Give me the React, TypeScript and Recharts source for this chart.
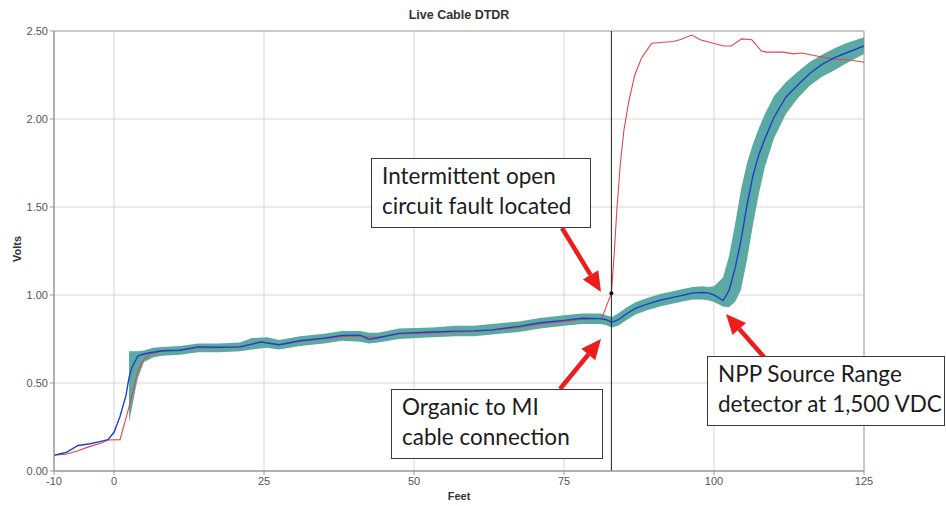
import React from "react";
import {
  ComposedChart,
  Line,
  Area,
  XAxis,
  YAxis,
  CartesianGrid,
  ReferenceLine,
  ReferenceDot,
  ReferenceArea,
} from "recharts";

// Live cable trace (blue)
const liveFeet = [
  -10, -8, -6, -4, -2, -1, 0, 1, 2, 2.5, 3, 4, 5, 6, 8, 11, 14, 17.5, 21, 24.5,
  27.5, 31, 35, 38, 41, 42.5, 44, 47.5, 53, 57, 60, 63, 67.5, 71, 75, 78, 81, 82, 83, 84,
  85.5, 87, 89, 91, 93, 95, 96.5, 98, 99, 100, 101.5, 102.5, 103.5, 104.5, 105.5, 106.5,
  107.5, 108.5, 110, 112, 114, 116, 118, 120, 122, 125,
];
const liveVolts = [
  0.09, 0.105, 0.145, 0.155, 0.17, 0.178, 0.22, 0.31, 0.43, 0.53, 0.59, 0.655, 0.665,
  0.672, 0.683, 0.686, 0.705, 0.703, 0.705, 0.733, 0.717, 0.74, 0.755, 0.77, 0.772, 0.748,
  0.757, 0.782, 0.79, 0.795, 0.796, 0.802, 0.822, 0.842, 0.856, 0.868, 0.866, 0.86, 0.846,
  0.858, 0.895, 0.925, 0.95, 0.97, 0.985, 1.0, 1.012, 1.014, 1.012, 1.0, 0.968, 1.025,
  1.15, 1.31, 1.51, 1.68, 1.8, 1.89, 2.01, 2.125, 2.195, 2.26, 2.31, 2.347, 2.375, 2.415,
];

// Intermittent-fault trace (red)
const faultFeet = [
  -10, -8, -6, -4, -2, -1, 1, 2, 3, 4, 5, 6, 8, 11, 14, 17.5, 21, 24.5, 27.5, 31, 35, 38,
  41, 42.5, 44, 47.5, 53, 57, 60, 63, 67.5, 71, 75, 78, 81.3, 82.9, 83.4, 83.8, 84.4, 85,
  85.8, 86.8, 87.9, 89.6, 91.6, 93.2, 94.3, 96.3, 97.7, 99.9, 101.6, 102.9, 104.6, 106.3,
  107.9, 108.8, 111.6, 113.2, 114.6, 117.1, 119.9, 122.7, 125,
];
const faultVolts = [
  0.09, 0.095, 0.115, 0.14, 0.16, 0.176, 0.178, 0.3, 0.43, 0.57, 0.635, 0.665, 0.68, 0.686,
  0.7, 0.7, 0.705, 0.735, 0.716, 0.738, 0.752, 0.765, 0.768, 0.76, 0.76, 0.778, 0.785, 0.79,
  0.795, 0.8, 0.815, 0.835, 0.85, 0.862, 0.868, 1.01, 1.25, 1.48, 1.75, 1.94, 2.1, 2.25,
  2.345, 2.43, 2.436, 2.44, 2.45, 2.477, 2.45, 2.43, 2.415, 2.415, 2.455, 2.45, 2.386, 2.38,
  2.38, 2.37, 2.375, 2.358, 2.34, 2.335, 2.322,
];

// Baseline envelope (teal band)
const bandFeet = [
  2.5, 3, 3.5, 4, 5, 6.5, 8, 11, 14, 17.5, 21, 23, 25.5, 27.5, 31, 35, 38, 41, 42.5, 44,
  47.5, 53, 57, 60, 63, 67.5, 71, 75, 78, 81, 82, 83, 84, 85.5, 87, 89, 91, 93, 95, 96.5,
  98, 99, 100, 101.5, 102.5, 103.5, 104.5, 105.5, 106.5, 107.5, 108.5, 110, 112, 114, 116,
  118, 120, 122, 125,
];
const bandLow = [
  0.28, 0.36, 0.45, 0.53, 0.62, 0.645, 0.655, 0.66, 0.675, 0.675, 0.68, 0.69, 0.7, 0.69,
  0.71, 0.725, 0.74, 0.735, 0.725, 0.73, 0.75, 0.76, 0.765, 0.765, 0.775, 0.79, 0.81, 0.825,
  0.835, 0.835, 0.83, 0.815, 0.825, 0.86, 0.89, 0.915, 0.935, 0.95, 0.965, 0.975, 0.975,
  0.97, 0.96, 0.935, 0.93, 0.96, 1.03, 1.2, 1.4, 1.58, 1.73, 1.89, 2.03, 2.12, 2.19,
  2.24, 2.275, 2.315, 2.37,
];
const bandHigh = [
  0.68, 0.68, 0.68, 0.68, 0.685, 0.7, 0.705, 0.71, 0.725, 0.725, 0.73, 0.755, 0.76, 0.745,
  0.765, 0.78, 0.795, 0.795, 0.785, 0.785, 0.81, 0.815, 0.825, 0.825, 0.835, 0.85, 0.87,
  0.885, 0.895, 0.895, 0.885, 0.875, 0.895, 0.93, 0.96, 0.985, 1.005, 1.02, 1.035, 1.045,
  1.05, 1.045, 1.05, 1.1, 1.22, 1.4, 1.6, 1.75, 1.86, 1.95, 2.03, 2.13, 2.21, 2.27, 2.325,
  2.365, 2.4, 2.43, 2.465,
];

const xTicks = [-10, 0, 25, 50, 75, 100, 125];
const yTicks = [0, 0.5, 1, 1.5, 2, 2.5];

// cursor sits on the fault point of the red trace
const cursorIdx = faultFeet.indexOf(82.9);

const liveRows = liveFeet.map((x, i) => ({ x, v: liveVolts[i] }));
const faultRows = faultFeet.map((x, i) => ({ x, v: faultVolts[i] }));
const bandRows = bandFeet.map((x, i) => ({ x, range: [bandLow[i], bandHigh[i]] }));

const axisFont = { fontSize: 11, fill: "#555", fontFamily: "Liberation Sans, Arial, sans-serif" };

function Note({ left, top, width, lines }: { left: number; top: number; width: number; lines: string[] }) {
  return (
    <div
      style={{
        position: "absolute",
        left,
        top,
        width,
        boxSizing: "border-box",
        border: "1.5px solid #3a3a3a",
        background: "#fff",
        padding: "2px 8px 6px 10px",
        fontFamily: "Lato, sans-serif",
        fontSize: 22.5,
        lineHeight: "30px",
        color: "#1c1c1c",
        whiteSpace: "nowrap",
      }}
    >
      {lines.map((l) => (
        <div key={l}>{l}</div>
      ))}
    </div>
  );
}

function arrowPath(x1: number, y1: number, x2: number, y2: number) {
  const dx = x2 - x1;
  const dy = y2 - y1;
  const len = Math.hypot(dx, dy);
  const ux = dx / len;
  const uy = dy / len;
  const bx = x2 - ux * 20;
  const by = y2 - uy * 20;
  const px = -uy * 9;
  const py = ux * 9;
  return { bx, by, head: `${x2},${y2} ${bx + px},${by + py} ${bx - px},${by - py}` };
}

function Arrow({ from, to }: { from: [number, number]; to: [number, number] }) {
  const a = arrowPath(from[0], from[1], to[0], to[1]);
  return (
    <g>
      <line x1={from[0]} y1={from[1]} x2={a.bx} y2={a.by} stroke="#ee1c1c" strokeWidth={4.5} />
      <polygon points={a.head} fill="#ee1c1c" />
    </g>
  );
}

export default function App() {
  return (
    <div style={{ position: "absolute", left: 0, top: 0, width: 946, height: 506, background: "#fff" }}>
      <ComposedChart width={946} height={506} margin={{ top: 31, right: 82, bottom: 5, left: 9 }}>
        <CartesianGrid stroke="#d6d6d6" />
        <XAxis
          type="number"
          dataKey="x"
          domain={[-10, 125]}
          ticks={xTicks}
          allowDataOverflow
          height={30}
          stroke="#999"
          tickSize={4}
          tick={axisFont}
        />
        <YAxis
          type="number"
          domain={[0, 2.5]}
          ticks={yTicks}
          allowDataOverflow
          width={45}
          stroke="#999"
          tickSize={4}
          tick={axisFont}
          tickFormatter={(v: number) => v.toFixed(2)}
        />
        <ReferenceArea x1={-10} x2={125} y1={0} y2={2.5} fill="none" stroke="#a8a8a8" />
        <Area
          data={bandRows}
          dataKey="range"
          type="linear"
          stroke="none"
          fill="#5aa9a3"
          fillOpacity={1}
          isAnimationActive={false}
        />
        <Line data={faultRows} dataKey="v" type="linear" stroke="#e2474b" strokeWidth={1.1} dot={false} isAnimationActive={false} />
        <Line data={liveRows} dataKey="v" type="linear" stroke="#1f3fd0" strokeWidth={1.4} dot={false} isAnimationActive={false} />
        <ReferenceLine x={faultFeet[cursorIdx]} stroke="#222" strokeWidth={1} />
        <ReferenceDot x={faultFeet[cursorIdx]} y={faultVolts[cursorIdx]} r={2} fill="#111" stroke="none" />
      </ComposedChart>

      <div
        style={{
          position: "absolute",
          left: 0,
          width: 918,
          top: 8,
          textAlign: "center",
          fontFamily: "Liberation Sans, Arial, sans-serif",
          fontWeight: "bold",
          fontSize: 12.5,
          color: "#333",
        }}
      >
        Live Cable DTDR
      </div>
      <div
        style={{
          position: "absolute",
          left: 0,
          width: 918,
          top: 490,
          textAlign: "center",
          fontFamily: "Liberation Sans, Arial, sans-serif",
          fontWeight: "bold",
          fontSize: 11,
          color: "#333",
        }}
      >
        Feet
      </div>
      <div
        style={{
          position: "absolute",
          left: 17,
          top: 249,
          transform: "translate(-50%, -50%) rotate(-90deg)",
          fontFamily: "Liberation Sans, Arial, sans-serif",
          fontWeight: "bold",
          fontSize: 11,
          color: "#333",
        }}
      >
        Volts
      </div>

      <svg width={946} height={506} style={{ position: "absolute", left: 0, top: 0, pointerEvents: "none" }}>
        <Arrow from={[562, 228]} to={[601, 292]} />
        <Arrow from={[560, 389]} to={[601, 339]} />
        <Arrow from={[764, 357]} to={[726, 314]} />
      </svg>

      <Note left={371} top={158} width={220} lines={["Intermittent open", "circuit fault located"]} />
      <Note left={391} top={389} width={212} lines={["Organic to MI", "cable connection"]} />
      <Note left={707} top={356} width={238} lines={["NPP Source Range", "detector at 1,500 VDC"]} />
    </div>
  );
}
